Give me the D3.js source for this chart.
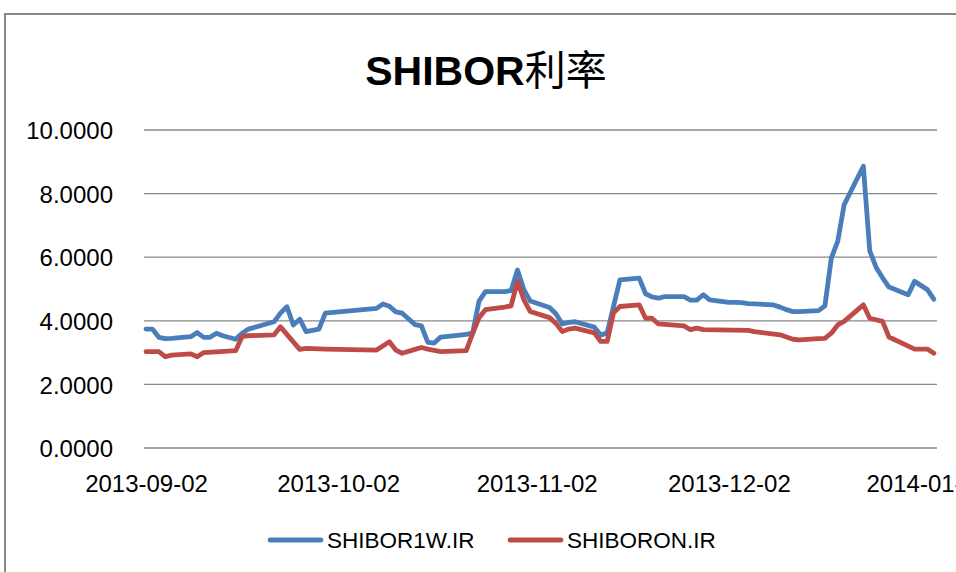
<!DOCTYPE html>
<html>
<head>
<meta charset="utf-8">
<script src="https://cdn.jsdelivr.net/npm/d3@7"></script>
<style>
  body { margin: 0; background: #fff; }
  text { font-family: "Liberation Sans", Arial, sans-serif; fill: #000; }
</style>
</head>
<body>
<div id="chart"></div>
<script>
// SHIBOR 1W
const w1Dates = ["2013-09-02","2013-09-03","2013-09-04","2013-09-05","2013-09-06","2013-09-09","2013-09-10","2013-09-11","2013-09-12","2013-09-13","2013-09-14","2013-09-16","2013-09-17","2013-09-18","2013-09-22","2013-09-23","2013-09-24","2013-09-25","2013-09-26","2013-09-27","2013-09-29","2013-09-30","2013-10-08","2013-10-09","2013-10-10","2013-10-11","2013-10-12","2013-10-14","2013-10-15","2013-10-16","2013-10-17","2013-10-18","2013-10-21","2013-10-22","2013-10-23","2013-10-24","2013-10-25","2013-10-28","2013-10-29","2013-10-30","2013-10-31","2013-11-01","2013-11-04","2013-11-05","2013-11-06","2013-11-07","2013-11-08","2013-11-11","2013-11-12","2013-11-13","2013-11-15","2013-11-18","2013-11-19","2013-11-20","2013-11-21","2013-11-22","2013-11-25","2013-11-26","2013-11-27","2013-11-28","2013-11-29","2013-12-02","2013-12-03","2013-12-04","2013-12-05","2013-12-06","2013-12-09","2013-12-10","2013-12-11","2013-12-12","2013-12-13","2013-12-16","2013-12-17","2013-12-18","2013-12-19","2013-12-20","2013-12-23","2013-12-24","2013-12-25","2013-12-26","2013-12-27","2013-12-30","2013-12-31","2014-01-02","2014-01-03"];
const w1Values = [3.74,3.74,3.48,3.44,3.45,3.50,3.63,3.48,3.48,3.61,3.53,3.42,3.61,3.74,3.97,4.24,4.44,3.87,4.05,3.66,3.74,4.24,4.39,4.53,4.46,4.28,4.24,3.88,3.84,3.32,3.30,3.49,3.55,3.57,3.62,4.62,4.92,4.92,4.95,5.60,4.98,4.62,4.42,4.22,3.90,3.95,3.97,3.80,3.55,3.62,5.29,5.34,4.85,4.75,4.71,4.76,4.76,4.65,4.65,4.82,4.66,4.58,4.58,4.57,4.54,4.53,4.50,4.43,4.35,4.29,4.29,4.32,4.47,5.97,6.50,7.65,8.86,6.20,5.68,5.35,5.06,4.82,5.24,4.98,4.68];

// SHIBOR O/N
const onDates = ["2013-09-02","2013-09-04","2013-09-05","2013-09-06","2013-09-09","2013-09-10","2013-09-11","2013-09-13","2013-09-16","2013-09-17","2013-09-18","2013-09-22","2013-09-23","2013-09-26","2013-09-27","2013-09-30","2013-10-08","2013-10-10","2013-10-11","2013-10-12","2013-10-14","2013-10-15","2013-10-16","2013-10-18","2013-10-22","2013-10-23","2013-10-24","2013-10-25","2013-10-28","2013-10-29","2013-10-30","2013-10-31","2013-11-01","2013-11-04","2013-11-05","2013-11-06","2013-11-07","2013-11-08","2013-11-11","2013-11-12","2013-11-13","2013-11-14","2013-11-15","2013-11-18","2013-11-19","2013-11-20","2013-11-21","2013-11-25","2013-11-26","2013-11-27","2013-11-28","2013-12-05","2013-12-06","2013-12-10","2013-12-12","2013-12-13","2013-12-16","2013-12-17","2013-12-18","2013-12-19","2013-12-20","2013-12-23","2013-12-24","2013-12-26","2013-12-27","2013-12-31","2014-01-02","2014-01-03"];
const onValues = [3.03,3.03,2.87,2.92,2.96,2.87,3.00,3.02,3.06,3.50,3.53,3.56,3.81,3.10,3.13,3.11,3.08,3.34,3.08,2.98,3.10,3.16,3.11,3.03,3.06,3.60,4.10,4.35,4.43,4.47,5.24,4.66,4.29,4.10,3.92,3.66,3.74,3.77,3.62,3.35,3.35,4.25,4.45,4.50,4.08,4.08,3.90,3.84,3.72,3.77,3.72,3.70,3.66,3.56,3.42,3.40,3.44,3.45,3.61,3.87,3.98,4.50,4.08,3.98,3.49,3.11,3.11,2.98];

const xTicks = ["2013-09-02","2013-10-02","2013-11-02","2013-12-02","2014-01-02"];
const yTicks = [0, 2, 4, 6, 8, 10];
const seriesNames = ["SHIBOR1W.IR", "SHIBORON.IR"];
const seriesColors = ["#4A7EBB", "#BE4B48"];

const width = 956, height = 572;
const parse = d3.utcParse("%Y-%m-%d");

const svg = d3.select("#chart").append("svg")
    .attr("width", width)
    .attr("height", height);

svg.append("rect")
    .attr("width", width).attr("height", height)
    .attr("fill", "#fff");

// chart frame
svg.append("rect")
    .attr("x", 5).attr("y", 14)
    .attr("width", 1000).attr("height", 700)
    .attr("fill", "none")
    .attr("stroke", "#878787")
    .attr("stroke-width", 2);

const x = d3.scaleUtc()
    .domain([parse("2013-09-02"), d3.utcHour.offset(parse("2014-01-03"), 12)])
    .range([146, 937]);

const y = d3.scaleLinear()
    .domain([0, 10])
    .range([448, 130]);

// gridlines
svg.append("g")
    .selectAll("line")
    .data(yTicks)
    .join("line")
    .attr("x1", 144).attr("x2", 937)
    .attr("y1", d => y(d)).attr("y2", d => y(d))
    .attr("stroke", "#888")
    .attr("stroke-width", 1.3);

// y axis labels
const yAxis = d3.axisLeft(y)
    .tickValues(yTicks)
    .tickSize(0)
    .tickPadding(0)
    .tickFormat(d3.format(".4f"));
svg.append("g")
    .attr("transform", "translate(113,0)")
    .call(yAxis)
    .call(g => g.select(".domain").remove())
    .selectAll("text")
    .attr("font-size", 24)
    .attr("font-family", "Liberation Sans, Arial, sans-serif")
    .attr("fill", "#000")
    .attr("dy", "0.36em");

// x axis labels
const xAxis = d3.axisBottom(x)
    .tickValues(xTicks.map(parse))
    .tickSize(0)
    .tickPadding(0)
    .tickFormat(d3.utcFormat("%Y-%m-%d"));
svg.append("g")
    .attr("transform", "translate(0,475)")
    .call(xAxis)
    .call(g => g.select(".domain").remove())
    .selectAll("text")
    .attr("font-size", 24)
    .attr("font-family", "Liberation Sans, Arial, sans-serif")
    .attr("fill", "#000")
    .attr("dy", "0.72em");

// lines
const line = d3.line()
    .x(d => x(d[0]))
    .y(d => y(d[1]));

const series = [
    d3.zip(w1Dates.map(parse), w1Values),
    d3.zip(onDates.map(parse), onValues)
];

svg.append("g")
    .selectAll("path")
    .data(series)
    .join("path")
    .attr("d", line)
    .attr("fill", "none")
    .attr("stroke", (d, i) => seriesColors[i])
    .attr("stroke-width", 4.8)
    .attr("stroke-linejoin", "round")
    .attr("stroke-linecap", "round");

// title
const title = svg.append("text")
    .attr("x", 486)
    .attr("y", 85)
    .attr("text-anchor", "middle")
    .attr("font-size", 41)
    .attr("font-weight", "bold");
title.append("tspan").text("SHIBOR");
title.append("tspan")
    .attr("font-family", "Noto Sans CJK SC")
    .attr("font-weight", "normal")
    .text("利率");

// legend
const legendX = [270, 510];
const legend = svg.append("g")
    .selectAll("g")
    .data(seriesNames)
    .join("g")
    .attr("transform", (d, i) => `translate(${legendX[i]},540)`);
legend.append("line")
    .attr("x1", 0).attr("x2", 51)
    .attr("stroke", (d, i) => seriesColors[i])
    .attr("stroke-width", 4.8)
    .attr("stroke-linecap", "round");
legend.append("text")
    .attr("x", 57)
    .attr("dy", "0.36em")
    .attr("font-size", 22.5)
    .text(d => d);
</script>
</body>
</html>
